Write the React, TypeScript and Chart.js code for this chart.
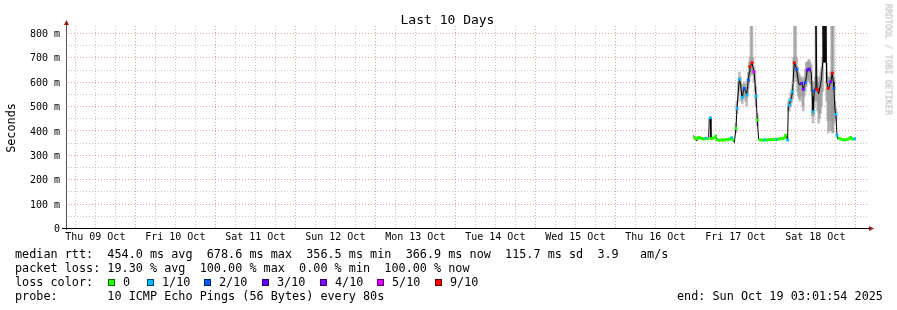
import React, { useEffect, useRef } from "react";
import { Chart, registerables } from "chart.js";

Chart.register(...registerables);

// ---- data (hours since Thu 09 Oct 00:00) ----
const hours = [
  191.5, 191.8, 192.1, 192.4, 192.7, 193.0, 193.4, 193.9, 194.3, 194.8,
  195.2, 195.7, 196.0, 196.2, 196.5, 196.7, 197.2, 197.6, 198.1, 198.5,
  199.0, 199.4, 199.9, 200.3, 200.8, 201.2, 201.7, 202.1, 202.6, 202.9,
  203.3, 203.7, 204.2, 204.5, 204.9, 205.2, 205.6, 205.9, 206.1, 206.4,
  206.7, 207.1, 207.4, 207.7, 207.9, 208.2, 208.4, 208.7, 209.0, 209.3,
  209.6, 209.9, 210.2, 210.6, 211.0, 211.4, 211.9, 212.3, 212.9, 213.4,
  213.8, 214.3, 214.7, 215.2, 215.6, 216.1, 216.5, 217.0, 217.4, 217.9,
  218.3, 218.8, 219.1, 219.4, 219.7, 219.9, 220.2, 220.6, 220.9, 221.2,
  221.5, 221.7, 222.1, 222.4, 222.7, 222.9, 223.2, 223.4, 223.9, 224.2,
  224.4, 224.7, 225.0, 225.3, 225.6, 225.9, 226.2, 226.5, 226.8, 227.1,
  227.3, 227.5, 227.7, 228.0, 228.2, 228.5, 228.7, 229.0, 229.3, 229.6,
  229.9, 230.2, 230.3, 230.45, 230.6, 230.75, 230.9, 231.05, 231.2, 231.3,
  231.4, 231.7, 231.9, 232.3, 232.6,
  232.9, 233.1, 233.4, 233.6, 233.9, 234.2, 234.5, 234.7, 235.1, 235.6,
  236.0, 236.5, 236.9, 237.4, 237.8, 238.3, 238.6, 238.9, 239.3, 239.8,
];

const medianMs = [
  380, 370, 366, 357, 368, 372, 370, 367, 365, 366,
  368, 366, 365, 450, 452, 366, 368, 370, 377, 362,
  360, 361, 362, 360, 361, 363, 362, 364, 366, 370,
  362, 351, 409, 491, 560, 610, 590, 545, 536, 560,
  573, 560, 546, 580, 607, 640, 662, 668, 678, 660,
  641, 600, 541, 443, 364, 362, 361, 360, 362, 361,
  362, 363, 362, 364, 363, 362, 364, 365, 366, 368,
  366, 370, 381, 372, 361, 500, 504, 525, 540, 559,
  640, 678, 665, 651, 620, 600, 590, 587, 593, 580,
  569, 585, 596, 620, 648, 650, 652, 648, 635, 540,
  477, 520, 563, 575, 850, 570, 566, 550, 570, 590,
  620, 678, 850, 680, 850, 680, 850, 680, 850, 678,
  600, 585, 573, 585, 600,
  620, 635, 600, 573, 484, 466, 381, 365, 368, 366,
  363, 362, 361, 363, 364, 368, 372, 366, 365, 366,
];

// packet loss (tenths) of the marked samples; -1 = no marker visible
const lossTenths = [
  -1, 0, 0, -1, 0, 0, 0, 0, 0, 0,
  1, 0, -1, -1, 1, 0, 0, 0, 0, 0,
  0, 0, 0, 0, 0, 0, 0, 0, 0, 1,
  0, -1, 0, 1, -1, 1, -1, -1, 1, -1,
  2, -1, 1, -1, 2, -1, 9, -1, 9, -1,
  5, -1, 1, 0, -1, 0, 0, 0, 1, 0,
  0, 0, 0, 0, 0, 0, 1, 0, 0, 0,
  0, 0, 0, -1, 1, -1, 1, 1, -1, 1,
  -1, 9, -1, 2, -1, -1, -1, -1, 3, -1,
  4, -1, 2, -1, 3, 4, 3, -1, -1, -1,
  1, -1, 2, -1, -1, 9, 9, -1, -1, -1,
  -1, -1, -1, -1, -1, -1, -1, -1, -1, -1,
  -1, -1, 9, -1, 4,
  -1, 9, -1, 2, -1, 1, 1, -1, 0, 0,
  0, 0, 0, 0, 0, 0, 0, 0, 0, 1,
];

const smokeLowMs = [
  null, null, null, null, null, null, null, null, null, null,
  null, null, null, null, null, null, null, null, null, null,
  null, null, null, null, null, null, null, null, null, null,
  null, null, 390, 470, 520, 580, 560, 520, 510, 530,
  540, 520, 500, 540, 570, 600, 620, 630, 640, 630,
  600, 560, 500, 420, null, null, null, null, null, null,
  null, null, null, null, null, null, null, null, null, null,
  null, null, null, null, null, 480, 480, 500, 515, 530,
  600, 640, 620, 600, 560, 540, 530, 520, 540, 500,
  480, 540, 560, 580, 600, 610, 600, 590, 560, 460,
  430, 460, 500, 520, 560, 520, 480, 430, 450, 470,
  500, 560, null, null, null, null, null, null, null, null,
  520, 440, 390, 400, 440,
  400, 390, 390, 430, 450, 440, null, null, null, null,
  null, null, null, null, null, null, null, null, null, null,
];

const smokeHighMs = [
  null, null, null, null, null, null, null, null, null, null,
  null, null, null, null, null, null, null, null, null, null,
  null, null, null, null, null, null, null, null, null, null,
  null, null, 430, 520, 600, 640, 620, 590, 570, 590,
  600, 590, 570, 610, 640, 680, 700, 840, 830, 700,
  660, 640, 580, 470, null, null, null, null, null, null,
  null, null, null, null, null, null, null, null, null, null,
  null, null, null, null, null, 520, 530, 555, 570, 590,
  700, 830, 830, 700, 660, 640, 630, 620, 620, 610,
  600, 620, 650, 680, 680, 690, 690, 680, 670, 600,
  530, 560, 600, 620, 840, 620, 600, 600, 620, 640,
  660, 700, null, null, null, null, null, null, null, null,
  640, 620, 600, 620, 640,
  830, 830, 830, 620, 520, 490, null, null, null, null,
  null, null, null, null, null, null, null, null, null, null,
];

const dayLabels = [
  "Thu 09 Oct", "Fri 10 Oct", "Sat 11 Oct", "Sun 12 Oct", "Mon 13 Oct",
  "Tue 14 Oct", "Wed 15 Oct", "Thu 16 Oct", "Fri 17 Oct", "Sat 18 Oct",
];

const lossLegendLabels = ["0", "1/10", "2/10", "3/10", "4/10", "5/10", "9/10"];
const lossLegendTenths = [0, 1, 2, 3, 4, 5, 9];

const statsRtt =
  "median rtt:  454.0 ms avg  678.6 ms max  356.5 ms min  366.9 ms now  115.7 ms sd  3.9   am/s";
const statsLoss = "packet loss: 19.30 % avg  100.00 % max  0.00 % min  100.00 % now";
const probeText = "probe:       10 ICMP Echo Pings (56 Bytes) every 80s";
const endText = "end: Sun Oct 19 03:01:54 2025";

// ---- styling ----
const LOSS_COLORS: Record<number, string> = {
  0: "#26ff00",
  1: "#00b8ff",
  2: "#0059ff",
  3: "#5e00ff",
  4: "#7e00ff",
  5: "#dd00ff",
  9: "#ff0000",
};
const MONO = '"DejaVu Sans Mono", monospace';
const X_MIN = 3.51;
const X_MAX = 243.51;
const Y_MAX = 828.7;
const MAJOR = "rgba(222,80,80,0.55)";
const MINOR = "rgba(143,143,143,0.5)";

const gridPlugin = {
  id: "rrdGrid",
  beforeDatasetsDraw(chart: any) {
    const { ctx, chartArea: a, scales } = chart;
    const xs = scales.x;
    const ys = scales.y;
    ctx.save();
    for (const t of xs.ticks) {
      const px = Math.round(xs.getPixelForValue(t.value));
      ctx.fillStyle = t.value % 24 === 0 ? MAJOR : MINOR;
      for (let y = Math.ceil(a.top); y < a.bottom; y += 3) ctx.fillRect(px, y, 1, 1);
    }
    for (const t of ys.ticks) {
      if (t.value === 0) continue;
      const py = Math.round(ys.getPixelForValue(t.value));
      ctx.fillStyle = t.value % 100 === 0 ? MAJOR : MINOR;
      for (let x = Math.ceil(a.left) + 1; x < a.right; x += 3) ctx.fillRect(x, py, 1, 1);
    }
    ctx.restore();
  },
  afterDraw(chart: any) {
    const { ctx, chartArea: a } = chart;
    const left = Math.round(a.left) - 1;
    const bottom = Math.round(a.bottom);
    const right = Math.round(a.right);
    const top = Math.round(a.top);
    ctx.save();
    ctx.fillStyle = "#555";
    ctx.fillRect(left, top - 2, 1, bottom - top + 4);
    ctx.fillStyle = "#000";
    ctx.fillRect(left - 4, bottom, right - left + 6, 1);
    ctx.fillStyle = "#9a1414";
    ctx.beginPath();
    ctx.moveTo(left - 2, top - 1);
    ctx.lineTo(left + 3, top - 1);
    ctx.lineTo(left + 0.5, top - 6);
    ctx.closePath();
    ctx.fill();
    ctx.beginPath();
    ctx.moveTo(right + 2, bottom - 2);
    ctx.lineTo(right + 2, bottom + 3);
    ctx.lineTo(right + 7, bottom + 0.5);
    ctx.closePath();
    ctx.fill();
    ctx.restore();
  },
};

const textBase: React.CSSProperties = {
  position: "absolute",
  fontFamily: MONO,
  whiteSpace: "pre",
  color: "#000",
};

export default function App() {
  const canvasRef = useRef<HTMLCanvasElement | null>(null);

  useEffect(() => {
    const canvas = canvasRef.current;
    if (!canvas) return;

    const smokeData: any[] = [];
    hours.forEach((h, i) => {
      const lo = smokeLowMs[i];
      const hi = smokeHighMs[i];
      if (lo != null && hi != null) smokeData.push({ x: h, y: [lo, hi] });
    });
    const medianData = hours.map((h, i) => ({ x: h, y: medianMs[i] }));

    const xTicks: number[] = [];
    for (let h = 6; h <= 240; h += 6) xTicks.push(h);
    const yTicks: number[] = [];
    for (let v = 0; v <= 800; v += 50) yTicks.push(v);

    const chart = new Chart(canvas, {
      type: "line",
      data: {
        datasets: [
          {
            type: "bar",
            data: smokeData,
            backgroundColor: "rgba(150,150,150,0.6)",
            barThickness: 2,
            order: 2,
          } as any,
          {
            type: "line",
            data: medianData,
            borderColor: "#000",
            borderWidth: 1,
            tension: 0,
            pointStyle: "rect",
            pointRadius: (c: any) => (lossTenths[c.dataIndex] < 0 ? 0 : 2),
            pointBackgroundColor: (c: any) =>
              LOSS_COLORS[lossTenths[c.dataIndex]] ?? "rgba(0,0,0,0)",
            pointBorderWidth: 0,
            order: 1,
          } as any,
        ],
      },
      options: {
        animation: false,
        responsive: false,
        devicePixelRatio: 1,
        events: [],
        layout: { padding: { left: 0, right: 30, top: 26, bottom: 0 } },
        plugins: {
          legend: { display: false },
          tooltip: { enabled: false },
          title: { display: false },
        },
        scales: {
          x: {
            type: "linear",
            offset: false,
            min: X_MIN,
            max: X_MAX,
            grid: { display: false, drawTicks: false, offset: false },
            border: { display: false },
            afterBuildTicks: (s: any) => {
              s.ticks = xTicks.map((v) => ({ value: v }));
            },
            afterFit: (s: any) => {
              s.height = 82;
              s.paddingLeft = 0;
              s.paddingRight = 0;
            },
            ticks: {
              autoSkip: false,
              maxRotation: 0,
              minRotation: 0,
              padding: 3,
              color: "#000",
              font: { family: MONO, size: 10 },
              callback: (v: any) => {
                const n = Number(v);
                return n % 24 === 12 ? dayLabels[(n - 12) / 24] ?? "" : "";
              },
            },
          },
          y: {
            type: "linear",
            offset: false,
            min: 0,
            max: Y_MAX,
            grid: { display: false, drawTicks: false },
            border: { display: false },
            afterBuildTicks: (s: any) => {
              s.ticks = yTicks.map((v) => ({ value: v }));
            },
            afterFit: (s: any) => {
              s.width = 67;
              s.paddingTop = 0;
              s.paddingBottom = 0;
            },
            ticks: {
              autoSkip: false,
              padding: 7,
              labelOffset: 1.5,
              color: "#000",
              font: { family: MONO, size: 10 },
              callback: (v: any) => {
                const n = Number(v);
                if (n % 100 !== 0) return "";
                return n === 0 ? "0" : `${n} m`;
              },
            },
          },
        },
      },
      plugins: [gridPlugin],
    });

    return () => chart.destroy();
  }, []);

  const legendBoxLefts = [108, 147, 204, 262, 320, 377, 435];

  return (
    <div
      style={{
        position: "absolute",
        left: 0,
        top: 0,
        width: 897,
        height: 310,
        background: "#fff",
        overflow: "hidden",
      }}
    >
      <canvas
        ref={canvasRef}
        width={897}
        height={310}
        style={{ position: "absolute", left: 0, top: 0, width: 897, height: 310 }}
      />
      <div
        style={{
          ...textBase,
          left: 0,
          width: 895,
          top: 13,
          fontSize: 13,
          lineHeight: "13px",
          textAlign: "center",
        }}
      >
        Last 10 Days
      </div>
      <div
        style={{
          ...textBase,
          left: -39,
          top: 121.5,
          width: 100,
          height: 12,
          fontSize: 11.8,
          lineHeight: "12px",
          textAlign: "center",
          transform: "rotate(-90deg)",
        }}
      >
        Seconds
      </div>
      <div
        style={{
          ...textBase,
          left: 828,
          top: 55,
          width: 120,
          height: 9,
          fontSize: 8.4,
          lineHeight: "9px",
          textAlign: "center",
          color: "#b4b4b4",
          transform: "rotate(90deg)",
        }}
      >
        RRDTOOL / TOBI OETIKER
      </div>
      <div style={{ ...textBase, left: 15, top: 248.5, fontSize: 11.8, lineHeight: "11.8px" }}>
        {statsRtt}
      </div>
      <div style={{ ...textBase, left: 15, top: 262.5, fontSize: 11.8, lineHeight: "11.8px" }}>
        {statsLoss}
      </div>
      <div style={{ ...textBase, left: 15, top: 276.5, fontSize: 11.8, lineHeight: "11.8px" }}>
        loss color:
      </div>
      {lossLegendLabels.map((lab, i) => (
        <React.Fragment key={lab}>
          <div
            style={{
              position: "absolute",
              left: legendBoxLefts[i],
              top: 279,
              width: 5,
              height: 5,
              background: LOSS_COLORS[lossLegendTenths[i]],
              border: "1px solid rgba(0,0,0,0.6)",
            }}
          />
          <div
            style={{
              ...textBase,
              left: legendBoxLefts[i] + 15,
              top: 276.5,
              fontSize: 11.8,
              lineHeight: "11.8px",
            }}
          >
            {lab}
          </div>
        </React.Fragment>
      ))}
      <div style={{ ...textBase, left: 15, top: 290.5, fontSize: 11.8, lineHeight: "11.8px" }}>
        {probeText}
      </div>
      <div style={{ ...textBase, left: 677, top: 290.5, fontSize: 11.8, lineHeight: "11.8px" }}>
        {endText}
      </div>
    </div>
  );
}
